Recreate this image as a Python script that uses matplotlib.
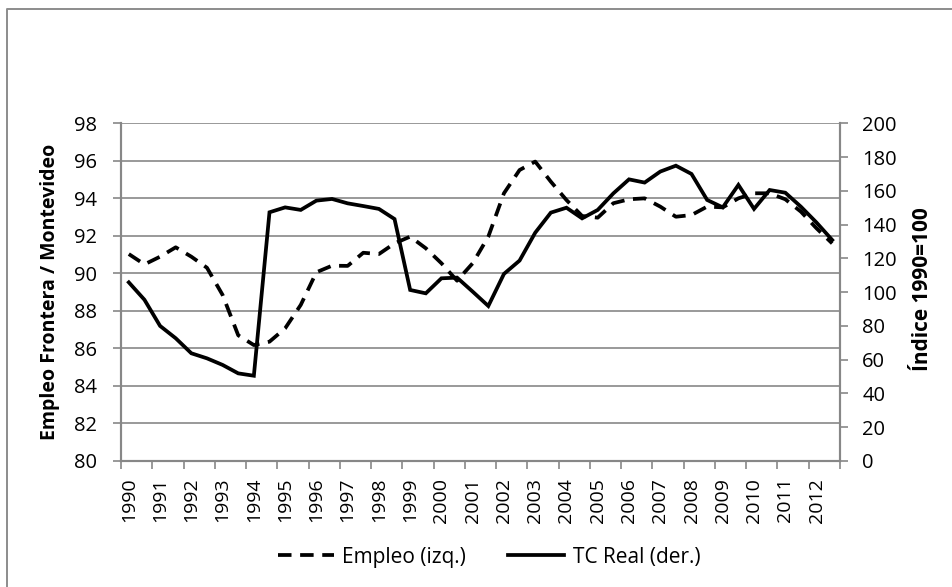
import numpy as np
import matplotlib
matplotlib.use("Agg")
import matplotlib.pyplot as plt
from matplotlib.lines import Line2D

plt.rcParams['font.family'] = ['Open Sans', 'DejaVu Sans']

# datos semestrales 1990-2012
anios = [str(a) for a in range(1990, 2013)]
empleo = [91.03, 90.48, 90.89, 91.39, 90.89, 90.3, 88.85, 86.7, 86.18, 86.36,
          87.07, 88.32, 90.06, 90.41, 90.4, 91.1, 91.03, 91.6, 91.96, 91.34,
          90.54, 89.61, 90.54, 91.96, 94.27, 95.51, 95.96, 94.89, 93.91, 93.06,
          92.97, 93.74, 93.95, 94.0, 93.56, 93.02, 93.11, 93.56, 93.52, 94.0,
          94.27, 94.27, 93.95, 93.29, 92.4, 91.6]
tc_real = [105.8, 95.5, 80, 72.7, 63.8, 60.8, 56.9, 51.9, 50.5, 147.3,
           150.2, 148.7, 154.2, 155.2, 152.6, 151, 149.3, 143.3, 101.3, 99.3,
           108.2, 108.6, 100.3, 91.8, 110.8, 118.7, 135.2, 147.1, 150, 143.7,
           148.7, 158.5, 166.8, 164.9, 171.4, 174.9, 170, 154.6, 150.2, 163.5,
           149.3, 160.5, 158.9, 150.6, 141.2, 130.9]

gris = '#878787'
fs = 14.5

fig = plt.figure(figsize=(9.52, 5.87), dpi=100)
ax1 = fig.add_axes([121/952, 1-461/587, (840-121)/952, (461-123.3)/587])
ax2 = ax1.twinx()

x = np.arange(len(empleo))
l1, = ax1.plot(x, empleo, color='black', lw=2.7, dashes=(3.6, 2.3),
               dash_capstyle='butt', label='Empleo (izq.)')
l2, = ax2.plot(x, tc_real, color='black', lw=2.7, solid_joinstyle='miter',
               label='TC Real (der.)')

ax1.set_xlim(-0.5, len(empleo) - 0.5)
ax1.set_ylim(80, 98)
ax1.set_yticks(np.arange(80, 99, 2))
ax2.set_ylim(0, 200)
ax2.set_yticks(np.arange(0, 201, 20))

# ticks mayores entre años, etiquetas en el primer semestre
ax1.set_xticks(np.arange(-0.5, len(empleo), 2))
ax1.set_xticklabels([])
ax1.set_xticks(np.arange(0, len(empleo), 2), minor=True)
ax1.set_xticklabels(anios, minor=True, rotation=90, fontsize=14)
ax1.tick_params(axis='x', which='minor', length=0, pad=12)
ax1.tick_params(axis='x', which='major', length=6, color=gris, width=1.2)

ax1.grid(axis='y', color=gris, lw=1.2)
ax1.set_axisbelow(True)

ax1.tick_params(axis='y', length=6, color=gris, width=1.2, labelsize=fs, pad=11.5)
ax2.tick_params(axis='y', length=6, color=gris, width=1.2, labelsize=fs, pad=10)

for ax in (ax1, ax2):
    ax.spines['top'].set_visible(False)
    for s in ['left', 'right', 'bottom']:
        ax.spines[s].set_color(gris)
        ax.spines[s].set_linewidth(1.5)

ax1.set_ylabel('Empleo Frontera / Montevideo', fontsize=14, fontweight='bold')
ax2.set_ylabel('Índice 1990=100', fontsize=15, fontweight='bold')
ax1.yaxis.set_label_coords((60 - 121) / 719, 0.5)
ax2.yaxis.set_label_coords((912 - 121) / 719, 0.51)

fig.legend(handles=[l1, l2], loc='center', bbox_to_anchor=(489/952, 1-557/587),
           ncol=2, frameon=False, fontsize=15, handlelength=2.7,
           handletextpad=0.4, columnspacing=2.0)

# borde del área del gráfico
fig.add_artist(Line2D([7/952, 7/952, 1.0], [0.0, 1-9/587, 1-9/587],
                      transform=fig.transFigure, color='#8c8c8c', lw=1.4))

fig.savefig('out.png', dpi=100)
